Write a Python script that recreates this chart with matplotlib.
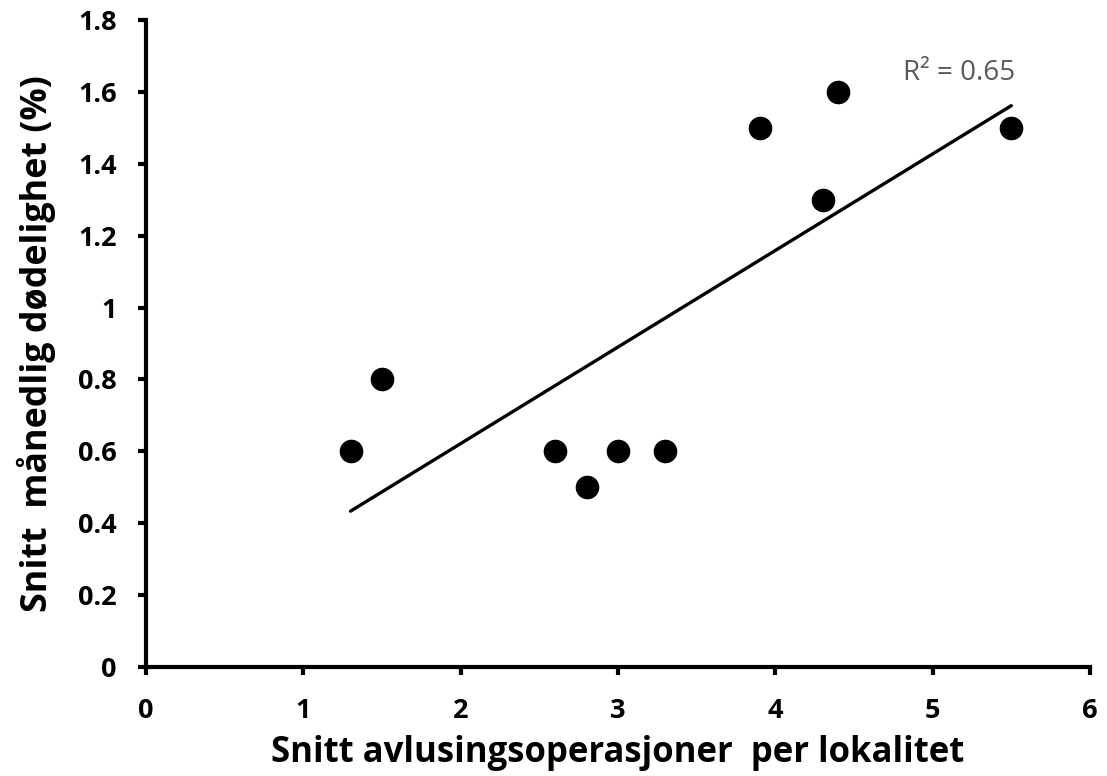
import numpy as np
import matplotlib
matplotlib.use("Agg")
import matplotlib.pyplot as plt

plt.rcParams['font.family'] = ['Open Sans', 'DejaVu Sans']

x_vals = [1.3, 1.5, 2.6, 2.8, 3.0, 3.3, 3.9, 4.3, 4.4, 5.5]
y_vals = [0.6, 0.8, 0.6, 0.5, 0.6, 0.6, 1.5, 1.3, 1.6, 1.5]
x_ticks = [0, 1, 2, 3, 4, 5, 6]
y_ticks = [0, 0.2, 0.4, 0.6, 0.8, 1, 1.2, 1.4, 1.6, 1.8]
y_tick_labels = ["0", "0.2", "0.4", "0.6", "0.8", "1", "1.2", "1.4", "1.6", "1.8"]
r2_label = "R² = 0.65"
x_label = "Snitt avlusingsoperasjoner  per lokalitet"
y_label = "Snitt  månedlig dødelighet (%)"

fig = plt.figure(figsize=(11.07, 7.76), dpi=100)
ax = fig.add_axes([0.1319, 0.1405, 0.8527, 0.8337])

x = np.array(x_vals)
y = np.array(y_vals)
slope, intercept = np.polyfit(x, y, 1)
xl = np.array([x.min(), x.max()])
ax.plot(xl, slope * xl + intercept, color='black', lw=2.4, zorder=2, solid_capstyle='round')
ax.plot(x, y, 'o', color='black', markersize=16, zorder=3, clip_on=False)

ax.set_xlim(0, 6)
ax.set_ylim(0, 1.8)
ax.set_xticks(x_ticks)
ax.set_xticklabels([str(t) for t in x_ticks])
ax.set_yticks(y_ticks)
ax.set_yticklabels(y_tick_labels)
for s in ['top', 'right']:
    ax.spines[s].set_visible(False)
for s in ['left', 'bottom']:
    ax.spines[s].set_linewidth(3.0)
ax.tick_params(axis='both', direction='out', length=6, width=3.0, labelsize=19.5)
for lab in ax.get_xticklabels() + ax.get_yticklabels():
    lab.set_fontweight('bold')
ax.tick_params(axis='x', pad=16)
ax.tick_params(axis='y', pad=15)

ax.set_xlabel(x_label, fontsize=25, fontweight='bold', labelpad=8)
ax.set_ylabel(y_label, fontsize=25.8, fontweight='bold', labelpad=16)

ax.text(5.17, 1.653, r2_label, color='#595959', fontsize=20, ha='center', va='center')

fig.savefig('out.png', dpi=100)
